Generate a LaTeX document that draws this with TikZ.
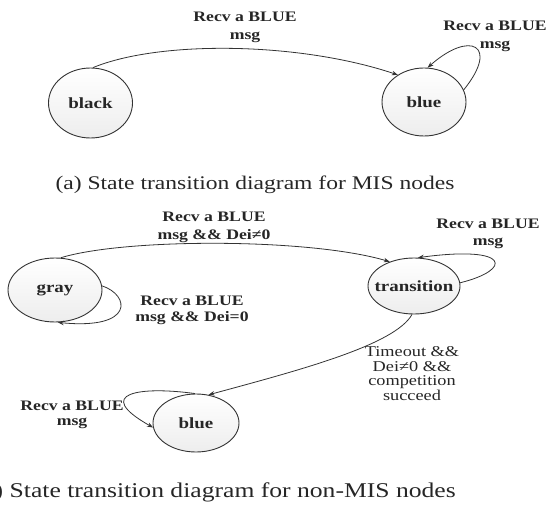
\documentclass[tikz,border=0pt]{standalone}
\usepackage{fontspec}
\setmainfont{Liberation Serif}[FakeStretch=1.22]
\usetikzlibrary{arrows.meta,shapes.geometric}

\begin{document}
\begin{tikzpicture}[x=1pt,y=-1pt,
  state/.style={ellipse, draw=black!80, line width=0.9pt,
    top color=white, bottom color=gray!14, inner sep=0pt},
  statetext/.style={inner sep=0pt, text=black!85,
    font=\fontsize{15.5}{18}\bfseries\selectfont},
  trans/.style={draw=black!80, line width=0.8pt,
    -{Stealth[length=6pt,width=4.5pt]}},
  lbl/.style={align=center, inner sep=0pt, text=black!85,
    font=\fontsize{14.5}{18}\bfseries\selectfont},
  captext/.style={inner sep=0pt, text=black!85,
    font=\fontsize{19.3}{22}\selectfont}]
\useasboundingbox (0,0) rectangle (546,505);

% ---- (a) MIS nodes ----
\node[state, minimum width=84pt, minimum height=70pt,
      label={[statetext]center:black}] (black) at (90.5,103) {};
\node[state, minimum width=84pt, minimum height=68pt,
      label={[statetext]center:blue}] (blueA) at (424,102) {};

\draw[trans] (black.86) .. controls (160,40) and (300,42) .. (blueA.134);
\draw[trans] (blueA.17) .. controls (500,45) and (470,30) .. (blueA.84);

\node[lbl] (la1) at (245,27.5) {Recv a BLUE\\msg};
\node[lbl] (la2) at (495,36) {Recv a BLUE\\msg};

\node[captext] (capa) at (255,185) {(a) State transition diagram for MIS nodes};

% ---- (b) non-MIS nodes ----
\node[state, minimum width=94pt, minimum height=64pt,
      label={[statetext]center:gray}] (gray) at (55,290) {};
\node[state, minimum width=92pt, minimum height=56pt,
      label={[statetext]center:transition}] (trans) at (414,286) {};
\node[state, minimum width=86pt, minimum height=58pt,
      label={[statetext]center:blue}] (blueB) at (196,423) {};

\draw[trans] (gray.80) .. controls (125,238) and (310,238) .. (trans.135);
\draw[trans] (gray.5) .. controls (130,295) and (135,330) .. (gray.-85);
\draw[trans] (trans.4) .. controls (512,270) and (512,245) .. (trans.82);
\draw[trans] (trans.266) .. controls (395,345) and (300,370) .. (blueB.66);
\draw[trans] (blueB.92) .. controls (140,386) and (92,393) .. (blueB.186);

\node[lbl] (lb1) at (214,227) {Recv a BLUE\\msg \&\& Dei≠0};
\node[lbl, font=\fontsize{14.5}{16}\bfseries\selectfont] (lb2) at (192,310)
  {Recv a BLUE\\msg \&\& Dei=0};
\node[lbl, font=\fontsize{14.5}{17}\bfseries\selectfont] (lb3) at (488,233.5)
  {Recv a BLUE\\msg};
\node[lbl, font=\fontsize{15}{14.5}\selectfont] (lb4) at (412,373.5)
  {Timeout \&\&\\Dei≠0 \&\&\\competition\\succeed};
\node[lbl, font=\fontsize{14.5}{15}\bfseries\selectfont] (lb5) at (72,414.5)
  {Recv a BLUE\\msg};

\node[captext, anchor=east, font=\fontsize{21}{24}\selectfont] (capb) at (456,492)
  {(b) State transition diagram for non-MIS nodes};
\end{tikzpicture}
\end{document}
